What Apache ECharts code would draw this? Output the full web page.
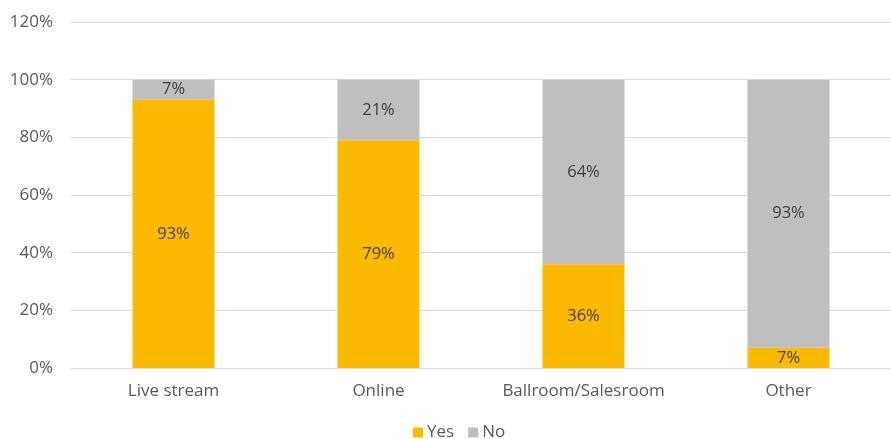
<!DOCTYPE html>
<html>
<head>
<meta charset="utf-8">
<script src="https://cdn.jsdelivr.net/npm/echarts@6/dist/echarts.min.js"></script>
<style>
  html, body { margin: 0; padding: 0; background: #fff; }
  #chart { width: 891px; height: 439px; }
</style>
</head>
<body>
<div id="chart"></div>
<script>
// Auction channel usage, share of respondents
const categories = ['Live stream', 'Online', 'Ballroom/Salesroom', 'Other'];
const yesValues = [93, 79, 36, 7];
const noValues = [7, 21, 64, 93];
const seriesNames = ['Yes', 'No'];
const colors = ['#FBB900', '#BFBFBF'];

const FONT = '"Open Sans", "Noto Sans", sans-serif';

const chart = echarts.init(document.getElementById('chart'));

const labelStyle = {
  show: true,
  position: 'inside',
  formatter: p => p.value + '%',
  color: '#404040',
  fontSize: 16.5,
  fontFamily: FONT
};

chart.setOption({
  animation: false,
  color: colors,
  grid: { left: 71, right: -3, top: 22, bottom: 71, containLabel: false },
  legend: {
    data: seriesNames,
    bottom: -7,
    left: 408,
    itemWidth: 10,
    itemHeight: 10,
    itemGap: 14,
    icon: 'rect',
    textStyle: { color: '#595959', fontSize: 17, fontFamily: FONT, padding: [0, 0, 0, -1] }
  },
  xAxis: {
    type: 'category',
    data: categories,
    axisLine: { show: true, lineStyle: { color: '#D9D9D9', width: 1 } },
    axisTick: { show: false },
    axisLabel: { interval: 0, color: '#595959', fontSize: 17, fontFamily: FONT, margin: 15 }
  },
  yAxis: {
    type: 'value',
    min: 0,
    max: 120,
    interval: 20,
    axisLine: { show: false },
    axisTick: { show: false },
    splitLine: { lineStyle: { color: '#D9D9D9', width: 1 } },
    axisLabel: { formatter: '{value}%', color: '#595959', fontSize: 17, fontFamily: FONT, margin: 18 }
  },
  series: [
    {
      name: seriesNames[0],
      type: 'bar',
      stack: 'total',
      barWidth: '40%',
      data: yesValues,
      label: labelStyle
    },
    {
      name: seriesNames[1],
      type: 'bar',
      stack: 'total',
      barWidth: '40%',
      data: noValues,
      label: labelStyle
    }
  ]
});
</script>
</body>
</html>
